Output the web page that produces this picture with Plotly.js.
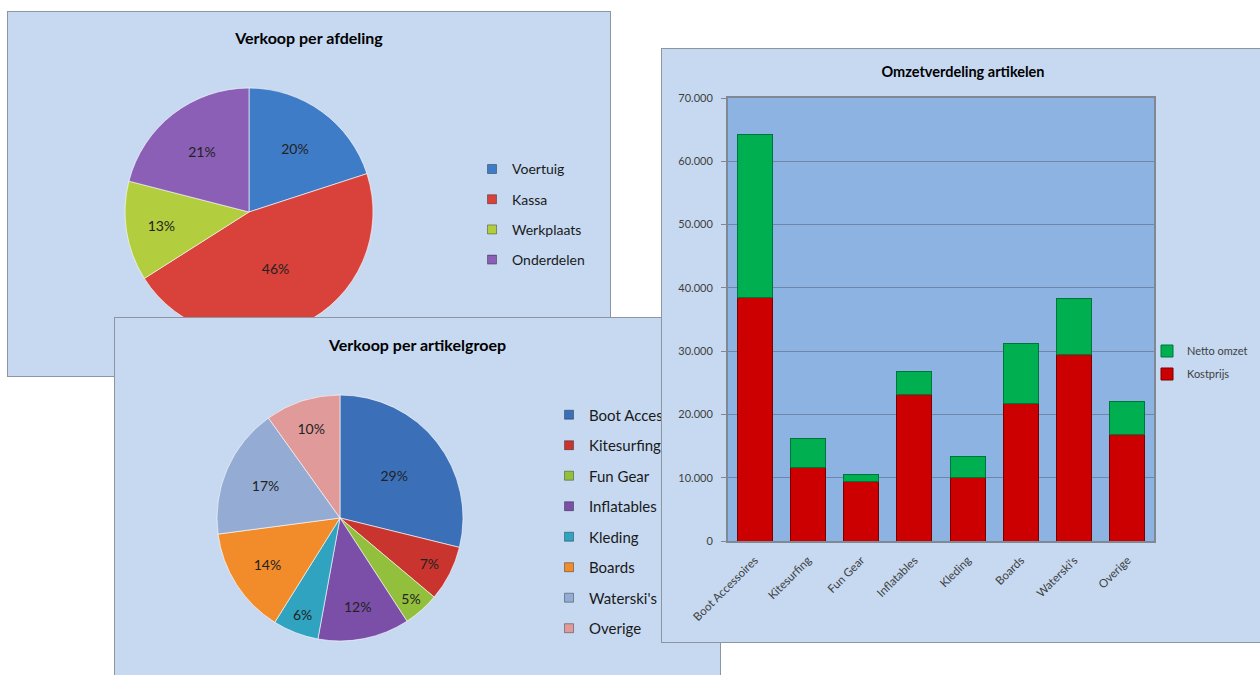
<!DOCTYPE html>
<html>
<head>
<meta charset="utf-8">
<script src="https://cdn.plot.ly/plotly-3.0.1.min.js"></script>
<style>
html,body{margin:0;padding:0;background:#ffffff;overflow:hidden;width:1260px;height:675px;position:relative;}
.panel{position:absolute;border:1px solid #8c96a1;background:#c6d9f1;overflow:hidden;}
#p1{left:7px;top:11px;width:602px;height:364px;z-index:1;}
#p2{left:114px;top:317px;width:605px;height:364px;z-index:2;}
#p3{left:661px;top:48px;width:602px;height:593px;z-index:3;}
</style>
</head>
<body>
<div class="panel" id="p1"><div id="chart1"></div></div>
<div class="panel" id="p2"><div id="chart2"></div></div>
<div class="panel" id="p3"><div id="chart3"></div></div>
<script>
// ---------- data ----------
const afdelingLabels = ['Voertuig', 'Kassa', 'Werkplaats', 'Onderdelen'];
const afdelingPct = [20, 46, 13, 21];
const afdelingColors = ['#3f7cc8', '#d9413b', '#b2cd3d', '#8a5fb5'];

const artikelLabels = ['Boot Accessoires', 'Kitesurfing', 'Fun Gear', 'Inflatables', 'Kleding', 'Boards', "Waterski's", 'Overige'];
const artikelOmzet = [64200, 16200, 10500, 26800, 13400, 31200, 38300, 22000];
const artikelColors = ['#3b70b9', '#c9342f', '#93c03c', '#7b4fa8', '#2fa3bf', '#f28b2a', '#94acd4', '#e09a99'];

const kostprijs = [38500, 11600, 9400, 23200, 10100, 21800, 29400, 16800];
const nettoOmzet = [25700, 4600, 1100, 3600, 3300, 9400, 8900, 5200];
const yTickVals = [0, 10000, 20000, 30000, 40000, 50000, 60000, 70000];

const FONT = 'Lato, "Open Sans", "DejaVu Sans", sans-serif';
const PANEL_BG = '#c6d9f1';
const CONFIG = {displayModeBar: false, staticPlot: true};

// ---------- pie panels ----------
function pieFigure(divId, title, labels, values, colors, o) {
  const traces = [{
    type: 'pie',
    labels: labels,
    values: values,
    sort: false,
    direction: 'clockwise',
    rotation: 0,
    marker: {colors: colors, line: {color: 'rgba(255,255,255,0.6)', width: 1}},
    texttemplate: '%{percent:.0%}',
    textposition: 'inside',
    insidetextorientation: 'horizontal',
    insidetextfont: {family: FONT, size: 14, color: '#222222'},
    domain: {x: o.dx, y: o.dy},
    showlegend: false,
    hoverinfo: 'label+percent'
  }];
  labels.forEach(function (l, i) {
    traces.push({
      type: 'scatter', mode: 'markers', x: [null], y: [null],
      name: l, legendgroup: 'g' + i, showlegend: true, hoverinfo: 'skip',
      marker: {symbol: 'square', size: 9, color: colors[i], line: {color: 'rgba(0,0,0,0.35)', width: 1}}
    });
  });
  const layout = {
    width: o.w, height: o.h,
    margin: {l: 0, r: 0, t: 0, b: 0, autoexpand: false},
    paper_bgcolor: PANEL_BG, plot_bgcolor: 'rgba(0,0,0,0)',
    xaxis: {visible: false}, yaxis: {visible: false},
    showlegend: true,
    title: {
      text: title, x: 0.5, xref: 'paper', xanchor: 'center',
      y: o.ty, yref: 'container', yanchor: 'middle',
      font: {family: FONT, size: 16, color: '#000000', weight: 700}
    },
    legend: {
      x: o.lx, y: o.ly, xanchor: 'left', yanchor: 'top',
      traceorder: 'grouped', tracegroupgap: o.gap,
      font: {family: FONT, size: o.lf, color: '#1a1a1a'},
      bgcolor: 'rgba(0,0,0,0)', borderwidth: 0
    }
  };
  Plotly.newPlot(divId, traces, layout, CONFIG);
}

pieFigure('chart1', 'Verkoop per afdeling', afdelingLabels, afdelingPct, afdelingColors, {
  w: 602, h: 364, dx: [0.1944, 0.6063], dy: [0.1099, 0.7912],
  ty: 1 - 26 / 364, lx: 0.7708, ly: 0.6115, gap: 9, lf: 14
});

pieFigure('chart2', 'Verkoop per artikelgroep', artikelLabels, artikelOmzet, artikelColors, {
  w: 605, h: 364, dx: [0.1686, 0.5752], dy: [0.1126, 0.7885],
  ty: 1 - 27 / 364, lx: 0.7174, ly: 0.779, gap: 8, lf: 15
});

// ---------- stacked bar panel ----------
const barTraces = [
  {
    type: 'bar', name: 'Kostprijs', x: artikelLabels, y: kostprijs, legendgroup: 'k', legendrank: 2,
    marker: {color: '#cc0000', line: {color: '#7a0000', width: 1}}
  },
  {
    type: 'bar', name: 'Netto omzet', x: artikelLabels, y: nettoOmzet, legendgroup: 'n', legendrank: 1,
    marker: {color: '#00b050', line: {color: '#00753a', width: 1}}
  }
];
const barLayout = {
  width: 602, height: 593,
  margin: {l: 66, r: 110, t: 49, b: 101, autoexpand: false},
  paper_bgcolor: PANEL_BG, plot_bgcolor: '#8db3e2',
  barmode: 'stack', bargap: 0.34,
  separators: ',.',
  title: {
    text: 'Omzetverdeling artikelen', x: 0.5, xref: 'container', xanchor: 'center',
    y: 1 - 23 / 593, yref: 'container', yanchor: 'middle',
    font: {family: FONT, size: 14.5, color: '#000000', weight: 700}
  },
  xaxis: {
    type: 'category', tickangle: -45, showgrid: false,
    tickfont: {family: FONT, size: 11.5, color: '#404040'}, ticklabelstandoff: 6,
    showline: true, linecolor: '#7f8893', linewidth: 2, mirror: true, ticks: ''
  },
  yaxis: {
    range: [0, 70000], tickvals: yTickVals, tickformat: ',',
    tickfont: {family: FONT, size: 11, color: '#404040'},
    showgrid: true, gridcolor: '#6f86a6', gridwidth: 1,
    ticks: 'outside', ticklen: 5, tickcolor: '#7f8893', ticklabelstandoff: 6,
    showline: true, linecolor: '#7f8893', linewidth: 2, mirror: true, zeroline: false
  },
  showlegend: true,
  legend: {
    x: 0.9836, y: 0.4616, xanchor: 'left', yanchor: 'top',
    traceorder: 'grouped', tracegroupgap: 4,
    font: {family: FONT, size: 11, color: '#404040'},
    bgcolor: 'rgba(0,0,0,0)'
  }
};
Plotly.newPlot('chart3', barTraces, barLayout, CONFIG);
</script>
</body>
</html>
